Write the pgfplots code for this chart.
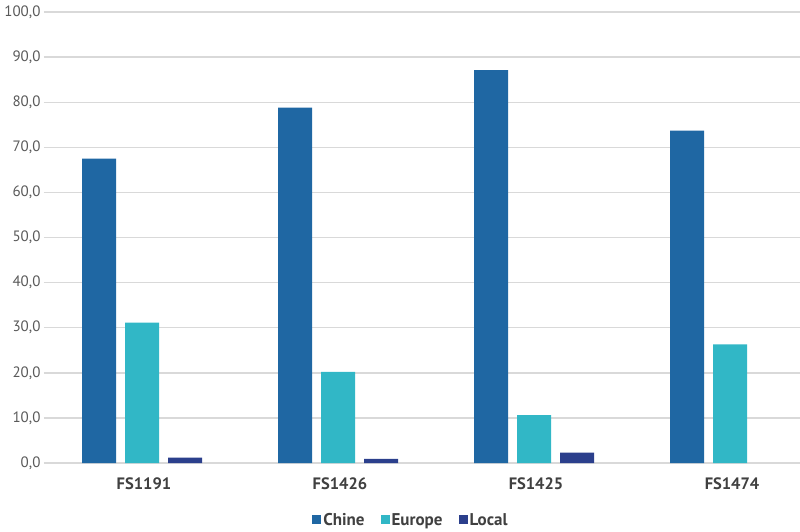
\documentclass[border=0pt]{standalone}
\usepackage{pgfplots}
\pgfplotsset{compat=1.18}
\usepackage{fontspec}
\setmainfont{PT Sans}
\definecolor{chine}{HTML}{1F67A3}
\definecolor{europe}{HTML}{31B7C6}
\definecolor{local}{HTML}{2B3F8C}
\definecolor{gridgray}{HTML}{D9D9D9}
\definecolor{ticktext}{HTML}{595959}
\definecolor{labtext}{HTML}{404040}

\begin{document}
\begin{tikzpicture}
\begin{axis}[
	at={(0pt,0pt)}, anchor=south west,
	scale only axis,
	width=756pt, height=451pt,
	xmin=-0.5, xmax=3.357,
	ymin=0, ymax=100,
	ytick={0,10,...,100},
	xtick={0,1,2,3},
	xticklabels={FS1191,FS1426,FS1425,FS1474},
	ymajorgrids,
	grid style={gridgray, line width=1.4pt},
	axis line style={draw=none},
	major tick length=0pt,
	ybar, bar width=34pt,
	/pgf/number format/.cd, fixed, fixed zerofill, precision=1, use comma,
	assume math mode=true,
	/pgfplots/.cd,
	yticklabel style={font=\fontsize{15}{17}\selectfont, text=ticktext, xshift=0pt},
	xticklabel style={font=\fontsize{16.5}{18}\selectfont\bfseries, text=labtext, yshift=-11pt, xshift=2pt},
	legend style={
		at={(0.4854,-0.126)}, anchor=center,
		draw=none, fill=none,
		font=\fontsize{17}{19}\selectfont\bfseries, text=labtext,
		legend columns=3,
		/tikz/every even column/.append style={column sep=14pt},
		nodes={inner sep=2pt},
	},
	legend image code/.code={\fill[#1] (0pt,-4.5pt) rectangle (9pt,4.5pt);},
]
\addplot[fill=chine, draw=none, bar shift=-43pt] coordinates {(0,67.5) (1,78.8) (2,87.1) (3,73.7)};
\addplot[fill=europe, draw=none, bar shift=0pt] coordinates {(0,31.1) (1,20.2) (2,10.6) (3,26.3)};
\addplot[fill=local, draw=none, bar shift=43pt] coordinates {(0,1.2) (1,0.9) (2,2.3)};
\legend{Chine,Europe,Local}
\end{axis}
\pgfresetboundingbox
\path[use as bounding box] (-44pt,-68pt) rectangle (756pt,463pt);
\end{tikzpicture}
\end{document}
